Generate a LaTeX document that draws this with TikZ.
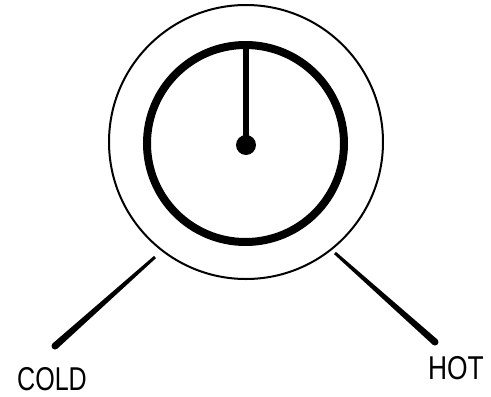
\documentclass[tikz,border=0pt]{standalone}
\usepackage{fontspec}
\setmainfont{Liberation Sans}
\tikzset{
  label/.style={inner sep=0pt, font=\fontsize{33}{33}\selectfont},
  rim/.style={draw=black, line width=2pt},
  dial/.style={draw=black, line width=8pt},
}
\begin{document}
\begin{tikzpicture}[x=1pt,y=-1pt]
\useasboundingbox (0,0) rectangle (491,397);
% outer ring
\draw[rim] (246,142) circle (137);
% inner dial
\draw[dial] (245.5,143.5) circle (98.5);
% needle
\draw[line width=6pt] (246,145) -- (246,45);
\fill (246,145) circle (10);
% left tapered leg
\fill (156.0,258.1) -- (154.0,255.9) -- (52.7,343.4) -- (57.3,348.6) -- cycle;
\fill (55,346) circle (3.5);
% right tapered leg
\fill (334.0,254.1) -- (336.0,251.9) -- (437.3,339.4) -- (432.7,344.6) -- cycle;
\fill (435,342) circle (3.5);
% labels
\node[label] (cold) at (52,379) {\scalebox{0.76}[1]{COLD}};
\node[label] (hot) at (456,368) {\scalebox{0.8}[1]{HOT}};
\end{tikzpicture}
\end{document}
